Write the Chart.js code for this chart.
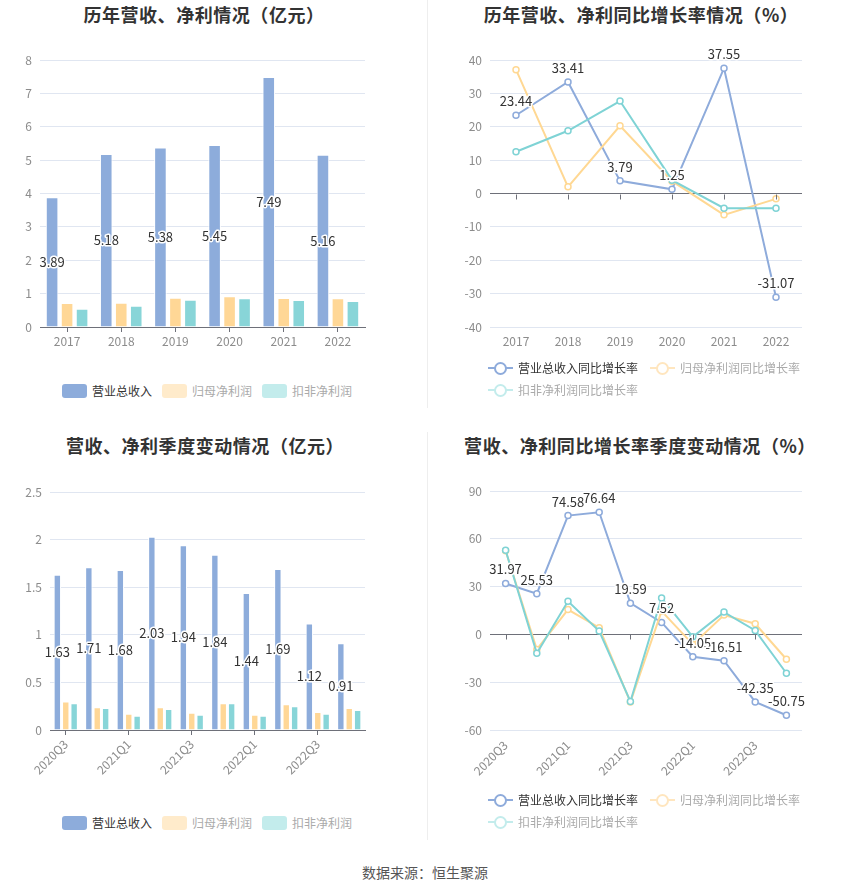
<!DOCTYPE html>
<html>
<head>
<meta charset="utf-8">
<script src="https://cdn.jsdelivr.net/npm/chart.js@4.4.0/dist/chart.umd.min.js"></script>
<style>
  html, body { margin: 0; padding: 0; background: #fff; }
  body { width: 850px; height: 891px; position: relative; overflow: hidden;
         font-family: 'Noto Sans CJK SC', 'Noto Sans', sans-serif; }
  canvas { position: absolute; }
  .title { position: absolute; width: 420px; text-align: center; font-size: 18px; font-weight: bold;
           color: #333; line-height: 22px; white-space: nowrap; letter-spacing: 0.55px; }
  .legend { position: absolute; font-size: 12px; line-height: 14px; white-space: nowrap; }
  .item { position: absolute; display: flex; align-items: center; }
  .sw { width: 25px; height: 14px; border-radius: 3px; margin-right: 5px; }
  .mk { position: relative; width: 25px; height: 14px; margin-right: 5px; }
  .mk .ln { position: absolute; left: 0; right: 0; top: 6px; height: 2px; }
  .mk .ci { position: absolute; left: 6px; top: 1px; width: 9px; height: 9px; border-radius: 50%;
            border: 2px solid; background: #fff; }
  .divider { position: absolute; left: 427px; width: 1px; background: #eeeeee; }
  .source { position: absolute; left: 0; width: 850px; top: 862px; text-align: center; font-size: 14px; color: #555; }
</style>
</head>
<body>
<div class="divider" style="top:0;height:408px"></div>
<div class="divider" style="top:432px;height:408px"></div>

<div class="title" style="left:-6px;top:3px">历年营收、净利情况（亿元）</div>
<div class="title" style="left:431px;top:3px">历年营收、净利同比增长率情况（%）</div>
<div class="title" style="left:-5px;top:434px">营收、净利季度变动情况（亿元）</div>
<div class="title" style="left:430px;top:434px">营收、净利同比增长率季度变动情况（%）</div>

<canvas id="c1" width="425" height="360" style="left:0;top:0"></canvas>
<canvas id="c2" width="420" height="360" style="left:430px;top:0"></canvas>
<canvas id="c3" width="425" height="375" style="left:0;top:431px"></canvas>
<canvas id="c4" width="420" height="375" style="left:430px;top:431px"></canvas>

<div id="lg1" class="legend"></div>
<div id="lg2" class="legend"></div>
<div id="lg3" class="legend"></div>
<div id="lg4" class="legend"></div>

<div class="source">数据来源：恒生聚源</div>

<script>
// ---------------- data ----------------
const years = ['2017', '2018', '2019', '2020', '2021', '2022'];
const annualRevenue = [3.89, 5.18, 5.38, 5.45, 7.49, 5.16];
const annualNetProfit = [0.72, 0.73, 0.88, 0.92, 0.87, 0.86];
const annualDeductedProfit = [0.55, 0.64, 0.82, 0.86, 0.81, 0.78];

const annualRevenueGrowth = [23.44, 33.41, 3.79, 1.25, 37.55, -31.07];
const annualNetProfitGrowth = [37.1, 2.0, 20.3, 3.7, -6.4, -1.6];
const annualDeductedGrowth = [12.5, 18.8, 27.7, 4.0, -4.4, -4.4];

const quarters = ['2020Q3', '2020Q4', '2021Q1', '2021Q2', '2021Q3', '2021Q4', '2022Q1', '2022Q2', '2022Q3', '2022Q4'];
const quarterRevenue = [1.63, 1.71, 1.68, 2.03, 1.94, 1.84, 1.44, 1.69, 1.12, 0.91];
const quarterNetProfit = [0.30, 0.24, 0.17, 0.24, 0.18, 0.28, 0.16, 0.27, 0.19, 0.23];
const quarterDeductedProfit = [0.28, 0.23, 0.15, 0.22, 0.16, 0.28, 0.15, 0.25, 0.17, 0.21];

const quarterRevenueGrowth = [31.97, 25.53, 74.58, 76.64, 19.59, 7.52, -14.05, -16.51, -42.35, -50.75];
const quarterNetProfitGrowth = [52.5, -9.4, 15.6, 4.2, -42.5, 14.6, -6.3, 12.1, 6.7, -15.6];
const quarterDeductedGrowth = [52.8, -11.9, 20.8, 2.1, -42.1, 22.9, -1.5, 14.0, 2.5, -24.4];

const barNames = ['营业总收入', '归母净利润', '扣非净利润'];
const lineNames = ['营业总收入同比增长率', '归母净利润同比增长率', '扣非净利润同比增长率'];

// ---------------- styles ----------------
const BLUE = '#8DACDB', YELLOW = '#FFD796', TEAL = '#88D5D8';
const LBLUE = '#8EABDB', LYELLOW = '#FFD893', LTEAL = '#7FD3D5';
const GRID = '#E0E6F1', AXIS = '#6E7079', TICKC = '#8c8c8c';
const FONT = "'Noto Sans CJK SC', 'Noto Sans', sans-serif";
Chart.defaults.font.family = FONT;
Chart.defaults.font.size = 12;
Chart.defaults.color = TICKC;
Chart.defaults.animation = false;

const valueLabels = {
  id: 'valueLabels',
  afterDatasetsDraw(chart, args, opts) {
    if (!opts || !opts.enabled) return;
    const ctx = chart.ctx;
    const meta = chart.getDatasetMeta(0);
    const data = chart.data.datasets[0].data;
    ctx.save();
    ctx.font = '13px ' + FONT;
    ctx.textAlign = 'center';
    ctx.textBaseline = 'middle';
    ctx.lineJoin = 'round';
    meta.data.forEach((el, i) => {
      const txt = data[i].toFixed(2);
      let x = el.x, y;
      if (opts.mode === 'bar') y = (el.y + el.base) / 2;
      else y = el.y - 14;
      ctx.strokeStyle = '#fff';
      ctx.lineWidth = 3;
      ctx.strokeText(txt, x, y);
      ctx.fillStyle = '#333';
      ctx.fillText(txt, x, y);
    });
    ctx.restore();
  }
};

const zeroTicks = {
  id: 'zeroTicks',
  afterDatasetsDraw(chart, args, opts) {
    if (!opts || !opts.enabled) return;
    const ctx = chart.ctx, xs = chart.scales.x, ys = chart.scales.y;
    const y0 = Math.round(ys.getPixelForValue(0)) + 0.5;
    ctx.save();
    ctx.strokeStyle = AXIS;
    ctx.lineWidth = 1;
    for (let i = 0; i < chart.data.labels.length; i += opts.step) {
      const px = Math.round(xs.getPixelForValue(i)) + 0.5;
      ctx.beginPath();
      ctx.moveTo(px, y0);
      ctx.lineTo(px, y0 + 5);
      ctx.stroke();
    }
    ctx.restore();
  }
};
Chart.register(valueLabels, zeroTicks);

const plainNum = (v) => String(+Number(v).toFixed(2));

function barChart(id, labels, series, yMax, yStep, pad, yWidth, xHeight, rotate, step, catPct, barPct) {
  const colors = [BLUE, YELLOW, TEAL];
  return new Chart(document.getElementById(id), {
    type: 'bar',
    data: {
      labels: labels,
      datasets: series.map((d, k) => ({
        label: barNames[k], data: d, backgroundColor: colors[k],
        borderColor: '#ffffff', borderWidth: {left: 1, right: 1, top: 1, bottom: 0},
        categoryPercentage: catPct, barPercentage: barPct
      }))
    },
    options: {
      responsive: false,
      layout: { padding: pad },
      plugins: {
        legend: { display: false }, tooltip: { enabled: false }, title: { display: false },
        valueLabels: { enabled: true, mode: 'bar' }
      },
      scales: {
        x: {
          grid: {
            display: true, drawOnChartArea: false, drawTicks: true, tickLength: 5, offset: false,
            color: (c) => (c.index % step === 0 ? AXIS : 'rgba(0,0,0,0)')
          },
          border: { display: true, color: AXIS, width: 1 },
          ticks: {
            autoSkip: false, padding: 2, color: TICKC,
            maxRotation: rotate ? 45 : 0, minRotation: rotate ? 45 : 0,
            callback: function (v, i) { return i % step === 0 ? this.getLabelForValue(v) : ''; }
          },
          afterFit: (s) => { s.height = xHeight; }
        },
        y: {
          min: 0, max: yMax,
          grid: { color: GRID, drawTicks: false },
          border: { display: false },
          ticks: { stepSize: yStep, padding: 8, color: TICKC, callback: plainNum },
          afterFit: (s) => { s.width = yWidth; }
        }
      }
    }
  });
}

function lineChart(id, labels, series, yMin, yMax, yStep, pad, yWidth, xHeight, rotate, step) {
  const colors = [LBLUE, LYELLOW, LTEAL];
  return new Chart(document.getElementById(id), {
    type: 'line',
    data: {
      labels: labels,
      datasets: series.map((d, k) => ({
        label: lineNames[k], data: d, borderColor: colors[k], backgroundColor: '#ffffff',
        borderWidth: 2, tension: 0, fill: false,
        pointRadius: 3, pointBorderWidth: 1.5, pointBackgroundColor: '#ffffff', pointBorderColor: colors[k],
        order: 2 - k
      }))
    },
    options: {
      responsive: false,
      layout: { padding: pad },
      plugins: {
        legend: { display: false }, tooltip: { enabled: false }, title: { display: false },
        valueLabels: { enabled: true, mode: 'line' },
        zeroTicks: { enabled: true, step: step }
      },
      scales: {
        x: {
          offset: true,
          grid: { display: false, drawTicks: false },
          border: { display: false },
          ticks: {
            autoSkip: false, padding: rotate ? 8 : 7, color: TICKC,
            maxRotation: rotate ? 45 : 0, minRotation: rotate ? 45 : 0,
            callback: function (v, i) { return i % step === 0 ? this.getLabelForValue(v) : ''; }
          },
          afterFit: (s) => { s.height = xHeight; }
        },
        y: {
          min: yMin, max: yMax,
          grid: { color: (c) => (c.tick && c.tick.value === 0 ? AXIS : GRID), drawTicks: false },
          border: { display: false },
          ticks: { stepSize: yStep, padding: 8, color: TICKC, callback: plainNum },
          afterFit: (s) => { s.width = yWidth; }
        }
      }
    }
  });
}

barChart('c1', years, [annualRevenue, annualNetProfit, annualDeductedProfit], 8, 1,
  { top: 60, left: 0, right: 60, bottom: 8 }, 40, 25, false, 1, 0.83, 0.84);
lineChart('c2', years, [annualRevenueGrowth, annualNetProfitGrowth, annualDeductedGrowth], -40, 40, 10,
  { top: 60, left: 0, right: 48, bottom: 8 }, 60, 25, false, 1);
barChart('c3', quarters, [quarterRevenue, quarterNetProfit, quarterDeductedProfit], 2.5, 0.5,
  { top: 61, left: 0, right: 60, bottom: 26 }, 50, 50, true, 2, 0.8, 0.88);
lineChart('c4', quarters, [quarterRevenueGrowth, quarterNetProfitGrowth, quarterDeductedGrowth], -60, 90, 30,
  { top: 60, left: 0, right: 48, bottom: 26 }, 60, 50, true, 2);

// ---------------- legends (HTML) ----------------
function barLegend(elId, left, top) {
  const sw = [BLUE, '#FFEBCB', '#C3ECEC'];
  const tc = ['#333', '#aaa', '#aaa'];
  const el = document.getElementById(elId);
  el.style.left = left + 'px'; el.style.top = top + 'px';
  barNames.forEach((n, k) => {
    const it = document.createElement('div');
    it.className = 'item';
    it.style.left = (k * 100) + 'px'; it.style.top = '0px';
    it.innerHTML = '<div class="sw" style="background:' + sw[k] + '"></div><span style="color:' + tc[k] + '">' + n + '</span>';
    el.appendChild(it);
  });
}
function lineLegend(elId, left, top) {
  const mc = [LBLUE, '#FFE6BF', '#C3ECEC'];
  const tc = ['#333', '#aaa', '#aaa'];
  const pos = [[0, 0], [162, 0], [0, 22]];
  const el = document.getElementById(elId);
  el.style.left = left + 'px'; el.style.top = top + 'px';
  lineNames.forEach((n, k) => {
    const it = document.createElement('div');
    it.className = 'item';
    it.style.left = pos[k][0] + 'px'; it.style.top = pos[k][1] + 'px';
    it.innerHTML = '<div class="mk"><div class="ln" style="background:' + mc[k] + '"></div>' +
      '<div class="ci" style="border-color:' + mc[k] + '"></div></div><span style="color:' + tc[k] + '">' + n + '</span>';
    el.appendChild(it);
  });
}
barLegend('lg1', 62, 384);
lineLegend('lg2', 488, 361);
barLegend('lg3', 62, 816);
lineLegend('lg4', 488, 793);
</script>
</body>
</html>
